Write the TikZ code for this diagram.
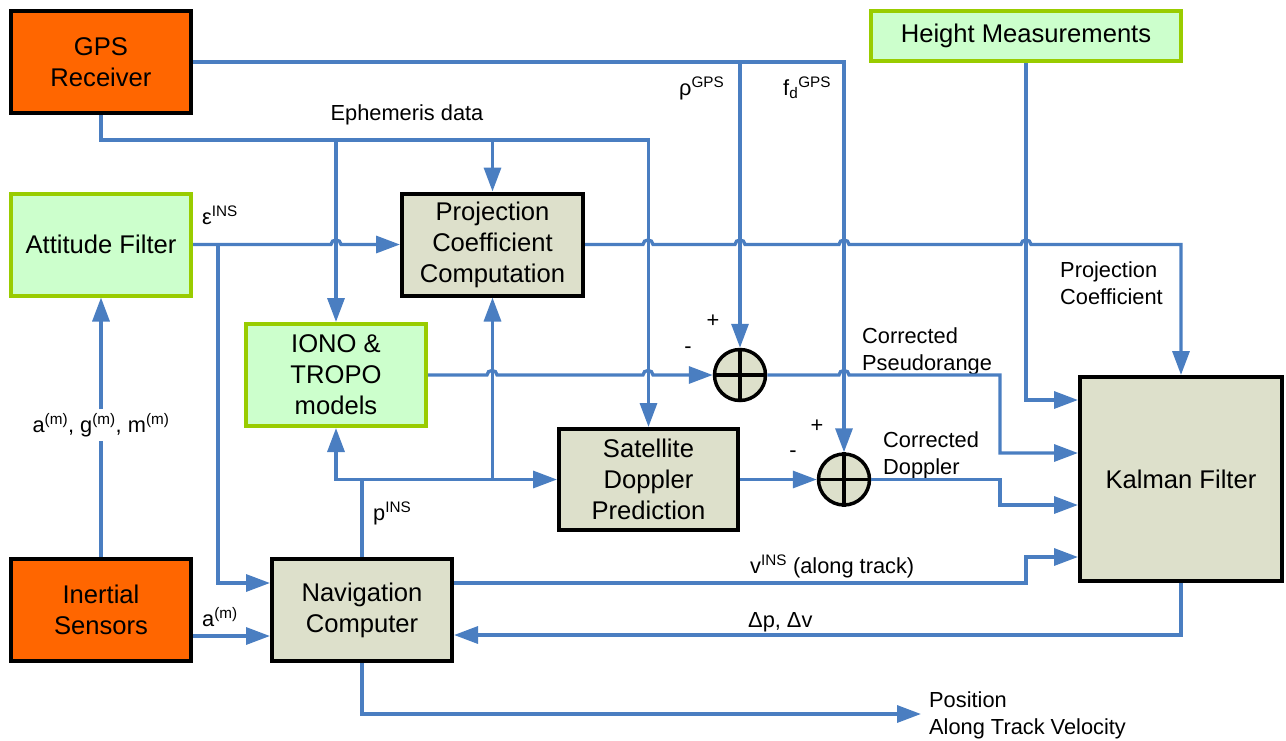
\documentclass[tikz,border=0pt]{standalone}
\usepackage{fontspec}
\setmainfont{Liberation Sans}
\usetikzlibrary{arrows.meta,calc}
\definecolor{wireblue}{RGB}{74,126,193}
\definecolor{orng}{RGB}{255,102,0}
\definecolor{lgreen}{RGB}{204,255,204}
\definecolor{ygreen}{RGB}{153,204,0}
\definecolor{gbox}{RGB}{221,224,203}
\begin{document}
\begin{tikzpicture}[x=1pt,y=-1pt,
  blk/.style={line width=4pt, align=center, inner sep=0pt, font=\fontsize{25.6}{31}\selectfont},
  orangebox/.style={blk, draw=black, fill=orng, minimum width=180pt, minimum height=102pt},
  greenbox/.style={blk, draw=ygreen, fill=lgreen, minimum width=180pt, minimum height=102pt},
  greybox/.style={blk, draw=black, fill=gbox, minimum width=180pt, minimum height=102pt},
  sumnode/.style={circle, draw=black, line width=3.5pt, fill=gbox, minimum size=51pt, inner sep=0pt},
  lbl/.style={inner sep=0pt, font=\fontsize{21.8}{27}\selectfont},
  wire/.style={draw=wireblue, line width=3.3pt},
  arr/.style={wire, -{Triangle[length=24pt,width=17pt]}}
]
\useasboundingbox (0,0) rectangle (1286,740);

% blocks
\node[orangebox] (gps) at (101,62) {GPS\\Receiver};
\node[greenbox] (att) at (101,244.5) {Attitude Filter};
\node[orangebox] (ins) at (101,610) {Inertial\\Sensors};
\node[greybox] (nav) at (362,610) {Navigation\\Computer};
\node[greybox, minimum width=181pt] (proj) at (492.5,244.5) {Projection\\Coefficient\\Computation};
\node[greenbox] (iono) at (336,375) {IONO \&\\TROPO\\models};
\node[greybox, minimum width=179pt, minimum height=101pt] (sat) at (648.5,479.5) {Satellite\\Doppler\\Prediction};
\node[greybox, minimum width=202pt, minimum height=204pt] (kal) at (1181,479) {Kalman Filter};
\node[greenbox, minimum width=310pt, minimum height=50pt] (hgt) at (1026,36) {Height Measurements};
\node[sumnode] (sum1) at (740,375) {};
\node[sumnode] (sum2) at (844,479.5) {};
\draw[line width=3.5pt] (sum1.north) -- (sum1.south) (sum1.west) -- (sum1.east);
\draw[line width=3.5pt] (sum2.north) -- (sum2.south) (sum2.west) -- (sum2.east);

% coordinates
\coordinate (eph) at (101,140);
\coordinate (pj) at (362,479.5);
\coordinate (attb) at (218,244.5);
\coordinate (kin1) at (kal.west |- 0,400);
\coordinate (kin2) at (kal.west |- 0,453);
\coordinate (kin3) at (kal.west |- 0,505);
\coordinate (kin4) at (kal.west |- 0,557);
\coordinate (navin1) at ($(nav.west)+(0,-27)$);
\coordinate (navin2) at ($(nav.west)+(0,26)$);
\coordinate (navout) at ($(nav.east)+(0,-27)$);
\coordinate (navfb) at ($(nav.east)+(0,25)$);
\coordinate (outp) at (921,714);

% labels
\node[lbl, anchor=base] (leph) at (407,120) {Ephemeris data};
\node[lbl, anchor=base west] (leps) at (202,224) {ε\textsuperscript{INS}};
\node[lbl, anchor=base west] (lrho) at (679,95) {ρ\textsuperscript{GPS}};
\node[lbl, anchor=base west] (lfd) at (783,95) {f\textsubscript{d}\textsuperscript{GPS}};
\node[lbl] (lp1) at (713,321) {+};
\node[lbl] (lm1) at (688,350) {-};
\node[lbl] (lp2) at (817,426) {+};
\node[lbl] (lm2) at (793,454) {-};
\node[lbl, anchor=north west, align=left] (lcp) at (862,327) {Corrected\\Pseudorange};
\node[lbl, anchor=north west, align=left] (lcd) at (883,431) {Corrected\\Doppler};
\node[lbl, anchor=north west, align=left] (lpc) at (1060,261) {Projection\\Coefficient};
\node[lbl, inner ysep=4pt] (lagm) at (101,425) {a\textsuperscript{(m)}, g\textsuperscript{(m)}, m\textsuperscript{(m)}};
\node[lbl, anchor=base west] (lpins) at (373,520) {p\textsuperscript{INS}};
\node[lbl, anchor=base west] (lam) at (202,626) {a\textsuperscript{(m)}};
\node[lbl, anchor=base west] (lvins) at (750,573) {v\textsuperscript{INS} (along track)};
\node[lbl, anchor=base west] (ldp) at (748,627) {Δp, Δv};
\node[lbl, anchor=north west, align=left] (lout) at (929,691) {Position\\Along Track Velocity};

% GPS measurements
\draw[arr] (gps.east) -| (sum2.north);
\draw[arr] (gps.east -| sum1.north) -- (sum1.north);
% ephemeris
\draw[arr] (gps.south) |- (sat.north |- eph) -- (sat.north);
\draw[arr] (iono.north |- eph) -- (iono.north);
\draw[arr] (proj.north |- eph) -- (proj.north);
% attitude
\draw[arr] (att.east) -- (331,244.5) .. controls +(0,-6) and +(0,-6) .. (341,244.5) -- (proj.west);
\draw[arr] (attb) |- (navin1);
% projection coefficient
\draw[arr] (proj.east) -- (643,244.5) .. controls +(0,-6) and +(0,-6) .. (653,244.5)
  -- (735,244.5) .. controls +(0,-6) and +(0,-6) .. (745,244.5)
  -- (839,244.5) .. controls +(0,-6) and +(0,-6) .. (849,244.5)
  -- (1021,244.5) .. controls +(0,-6) and +(0,-6) .. (1031,244.5) -| (kal.north);
% height
\draw[arr] (hgt.south) |- (kin1);
% iono
\draw[arr] (iono.east) -- (487,375) .. controls +(0,-6) and +(0,-6) .. (497,375)
  -- (643,375) .. controls +(0,-6) and +(0,-6) .. (653,375) -- (sum1.west);
% corrected pseudorange
\draw[arr] (sum1.east) -- (839,375) .. controls +(0,-6) and +(0,-6) .. (849,375) -- (1000,375) |- (kin2);
% doppler
\draw[arr] (sat.east) -- (sum2.west);
\draw[arr] (sum2.east) -- (1000,479.5) |- (kin3);
% v INS
\draw[arr] (navout) -- (1026,583) |- (kin4);
% feedback
\draw[arr] (kal.south) |- (navfb);
% p INS
\draw[wire] (nav.north) -- (pj);
\draw[arr] (pj) -| (iono.south);
\draw[arr] (pj) -- (sat.west);
\draw[arr] (proj.south |- pj) -- (proj.south);
% inertial
\draw[wire] (ins.north) -- (lagm.south);
\draw[arr] (lagm.north) -- (att.south);
\draw[arr] (ins.east |- navin2) -- (navin2);
% output
\draw[arr] (nav.south) |- (outp);
\end{tikzpicture}
\end{document}
